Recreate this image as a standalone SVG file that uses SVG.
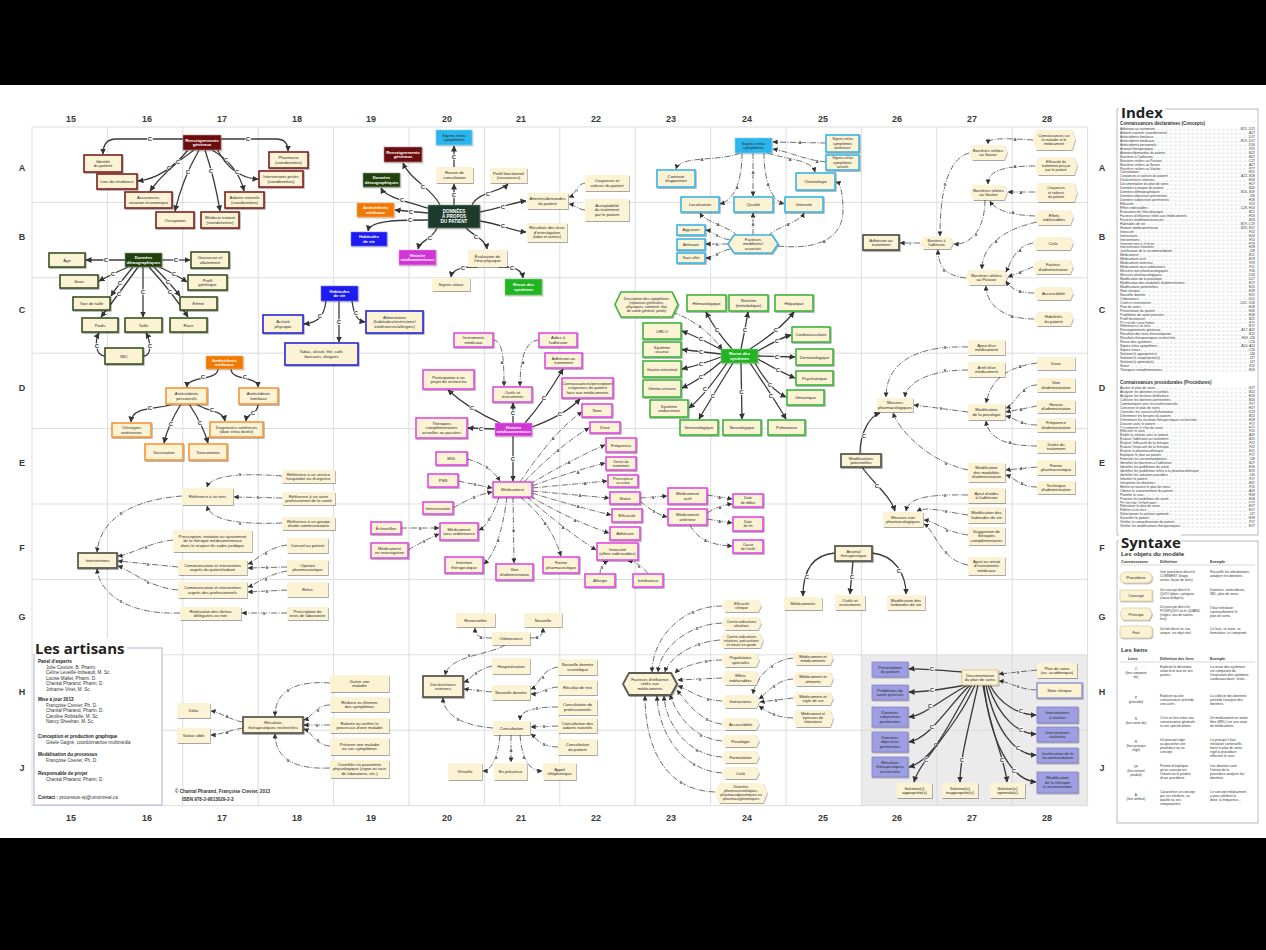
<svg xmlns="http://www.w3.org/2000/svg" width="1266" height="950" viewBox="0 0 1266 950">
<defs>
<filter id="sh" x="-20%" y="-20%" width="150%" height="170%"><feDropShadow dx="0.8" dy="1" stdDeviation="0.7" flood-color="#000" flood-opacity="0.35"/></filter>
<marker id="ar" markerUnits="userSpaceOnUse" markerWidth="6" markerHeight="6" refX="5.5" refY="3" orient="auto"><path d="M0,0 L6,3 L0,6 z" fill="#333"/></marker>
<marker id="ar2" markerUnits="userSpaceOnUse" markerWidth="5" markerHeight="5" refX="4.6" refY="2.5" orient="auto"><path d="M0,0 L5,2.5 L0,5 z" fill="#333"/></marker>
<pattern id="dt1" patternUnits="userSpaceOnUse" x="0" y="126.6" width="1.3" height="3.95"><rect y="2.8" width="0.5" height="0.45" fill="#777"/></pattern>
<pattern id="dt2" patternUnits="userSpaceOnUse" x="0" y="385.6" width="1.3" height="3.95"><rect y="2.8" width="0.5" height="0.45" fill="#777"/></pattern>
</defs>
<style>
.t{font-family:"Liberation Sans",Arial,sans-serif;font-size:4.2px;fill:#2a2a2a;text-anchor:middle}
.sm{font-size:3.7px}
.w{fill:#fff;font-weight:bold}
.b{fill:#fcf2d4;filter:url(#sh)}
.rd{stroke:#7e1f1f;stroke-width:1.6}
.dg{stroke:#38531f;stroke-width:1.6}
.or{stroke:#f4963a;stroke-width:1.6}
.bl{stroke:#2626d8;stroke-width:1.6}
.mg{stroke:#e24ae2;stroke-width:1.6}
.gn{stroke:#3db53d;stroke-width:1.6}
.cy{stroke:#3ab5e4;stroke-width:1.6}
.dk{stroke:#5b5b52;stroke-width:1.8}
.pu{fill:#9e9ee2;stroke:#7f7fc8;stroke-width:0.8}
.hrd{fill:#6c1111;stroke:#b08a8a;stroke-width:0.6}
.hdg{fill:#23420f;stroke:#8a9a80;stroke-width:0.6}
.hor{fill:#f27a05;stroke:#f6b070;stroke-width:0.6}
.hbl{fill:#1b1bf2;stroke:#8080f0;stroke-width:0.6}
.hmg{fill:#d134d6;stroke:#e890e8;stroke-width:0.6}
.hgn{fill:#22b422;stroke:#80d080;stroke-width:0.6}
.hcy{fill:#29b5ec;stroke:#8ad4f0;stroke-width:0.6}
.hct{fill:#1d3a2b;stroke:#8a9a90;stroke-width:0.6}
.grid{fill:none;stroke:#d9d9d9;stroke-width:0.9}
.c{fill:none;stroke:#3a3a3a;stroke-width:1.3;marker-end:url(#ar)}
.a{fill:none;stroke:#4a4a4a;stroke-width:0.8;stroke-dasharray:6 1.5 1 1.5;marker-end:url(#ar2)}
.l{font-family:"Liberation Sans",Arial,sans-serif;font-size:6px;font-weight:bold;fill:#3a3a3a;text-anchor:middle;dominant-baseline:central;paint-order:stroke;stroke:#fff;stroke-width:1.6px}
.s{font-size:4.2px;stroke-width:1.2px}
.hd{font-family:"Liberation Sans",Arial,sans-serif;font-size:9px;font-weight:bold;fill:#3a3a3a;text-anchor:middle}
.ti{font-family:"Open Sans","Liberation Sans",Arial,sans-serif;font-weight:bold;fill:#222}
.ar{font-family:"Liberation Sans",Arial,sans-serif;font-size:4.6px;fill:#333}
.ab{font-weight:bold;fill:#222}
.ix{font-family:"Liberation Sans",Arial,sans-serif;font-size:3.4px;fill:#333;paint-order:stroke;stroke:#fff;stroke-width:1.3px}
.sy{font-family:"Liberation Sans",Arial,sans-serif;font-size:3.4px;fill:#333}
</style>
<rect x="0" y="0" width="1266" height="950" fill="#000"/>
<rect x="0" y="85" width="1266" height="753" fill="#fff"/>

<g id="grid">
<rect x="861.4" y="654.8" width="226.2" height="150.8" fill="#ebebeb"/>
<path class="grid" d="M32 127V805.6M107.4 127V805.6M182.8 127V805.6M258.2 127V805.6M333.6 127V805.6M409 127V805.6M484.4 127V805.6M559.8 127V805.6M635.2 127V805.6M710.6 127V805.6M786 127V805.6M861.4 127V805.6M936.8 127V805.6M1012.2 127V805.6M1087.6 127V805.6M32 127H1087.6M32 202.4H1087.6M32 277.8H1087.6M32 353.2H1087.6M32 428.6H1087.6M32 504H1087.6M32 579.4H1087.6M32 654.8H1087.6M32 730.2H1087.6M32 805.6H1087.6"/>
<g class="hd">
<text x="71" y="122">15</text><text x="147" y="122">16</text><text x="222" y="122">17</text><text x="297" y="122">18</text><text x="371" y="122">19</text><text x="447" y="122">20</text><text x="521" y="122">21</text><text x="596" y="122">22</text><text x="671" y="122">23</text><text x="747" y="122">24</text><text x="823" y="122">25</text><text x="897" y="122">26</text><text x="972" y="122">27</text><text x="1047" y="122">28</text>
<text x="71" y="821">15</text><text x="147" y="821">16</text><text x="222" y="821">17</text><text x="297" y="821">18</text><text x="371" y="821">19</text><text x="447" y="821">20</text><text x="521" y="821">21</text><text x="596" y="821">22</text><text x="671" y="821">23</text><text x="747" y="821">24</text><text x="823" y="821">25</text><text x="897" y="821">26</text><text x="972" y="821">27</text><text x="1047" y="821">28</text>
<text x="22" y="171">A</text><text x="22" y="240">B</text><text x="22" y="313">C</text><text x="22" y="391">D</text><text x="22" y="466">E</text><text x="22" y="551">F</text><text x="22" y="620">G</text><text x="22" y="695">H</text><text x="22" y="771">J</text>
<text x="1102" y="171">A</text><text x="1102" y="240">B</text><text x="1102" y="313">C</text><text x="1102" y="391">D</text><text x="1102" y="466">E</text><text x="1102" y="551">F</text><text x="1102" y="620">G</text><text x="1102" y="695">H</text><text x="1102" y="771">J</text>
</g>
</g>

<g id="connectors">
<!-- Renseignements généraux -->
<path class="c" d="M221 139 L276 139 Q288 139 288 151"/><text class="l" x="248" y="139">C</text>
<path class="c" d="M183 139 L116 139 Q103 139 103 154"/><text class="l" x="150" y="139">C</text>
<path class="c" d="M188 150 Q165 178 138 181"/><text class="l" x="169" y="168">C</text>
<path class="c" d="M194 150 Q165 170 150 191"/><text class="l" x="178" y="162">C</text>
<path class="c" d="M199 150 Q182 180 175 211"/><text class="l" x="188" y="172">C</text>
<path class="c" d="M205 150 Q215 180 220 211"/><text class="l" x="211" y="171">C</text>
<path class="c" d="M212 150 Q238 165 244 191"/><text class="l" x="226" y="160">C</text>
<path class="c" d="M217 149 Q232 178 258 179"/><text class="l" x="237" y="172">C</text>
<!-- Données démographiques -->
<path class="c" d="M125 260 L86 260"/><text class="l" x="106" y="260">C</text>
<path class="c" d="M162 260 L190 260"/><text class="l" x="176" y="260">C</text>
<path class="c" d="M128 267 Q112 274 99 281"/><text class="l" x="113" y="274">C</text>
<path class="c" d="M159 267 Q175 274 187 282"/><text class="l" x="174" y="274">C</text>
<path class="c" d="M133 267 Q118 285 111 296"/><text class="l" x="120" y="283">C</text>
<path class="c" d="M154 267 Q170 283 180 296"/><text class="l" x="168" y="282">C</text>
<path class="c" d="M138 267 Q118 295 101 317"/><text class="l" x="119" y="294">C</text>
<path class="c" d="M143 267 L143 317"/><text class="l" x="143" y="292">C</text>
<path class="c" d="M149 267 Q172 292 188 317"/><text class="l" x="170" y="292">C</text>
<path class="c" d="M105 356 C 95 356 95 340 99 333"/><text class="l" x="97" y="346">C</text>
<path class="c" d="M143 356 C 153 356 150 340 146 333"/><text class="l" x="150" y="346">C</text>
<!-- Antécédents médicaux -->
<path class="c" d="M218 369 C 218 381 187 376 187 387"/><text class="l" x="203" y="377">C</text>
<path class="c" d="M231 369 C 231 381 258 376 258 387"/><text class="l" x="245" y="377">C</text>
<path class="c" d="M172 404 C 160 410 132 405 131 422"/><text class="l" x="150" y="408">C</text>
<path class="c" d="M181 404 Q168 425 164 443"/><text class="l" x="171" y="424">C</text>
<path class="c" d="M189 404 Q203 425 208 443"/><text class="l" x="200" y="423">C</text>
<path class="c" d="M196 404 C 210 413 223 410 225 421"/><text class="l" x="212" y="410">C</text>
<path class="c" d="M258 404 C 258 415 247 412 246 421"/><text class="l" x="253" y="413">C</text>
<!-- Habitudes de vie -->
<path class="c" d="M326 301 C 324 318 316 323 304 324"/><text class="l" x="320" y="316">C</text>
<path class="c" d="M352 301 C 354 316 358 321 365 322"/><text class="l" x="356" y="313">C</text>
<path class="c" d="M339 301 L339 342"/><text class="l" x="339" y="322">C</text>
<!-- Données à propos du patient -->
<path class="c" d="M454 205 L454 184"/><text class="l" x="454" y="195">C</text>
<path class="c" d="M454 167 L454 146"/><text class="l" x="454" y="157">C</text>
<path class="c" d="M440 205 C 432 188 410 180 403 163"/><text class="l" x="423" y="187">C</text>
<path class="c" d="M430 209 C 410 202 386 198 381 188"/><text class="l" x="402" y="200">C</text>
<path class="c" d="M428 213 L395 210"/><text class="l" x="411" y="211.5">C</text>
<path class="c" d="M428 220 C 400 220 370 220 368 231"/><text class="l" x="410" y="220">C</text>
<path class="c" d="M437 228 C 432 240 420 240 418 249"/><text class="l" x="430" y="238">C</text>
<path class="c" d="M466 228 C 474 236 486 240 487 249"/><text class="l" x="476" y="237">C</text>
<path class="c" d="M477 267 C 462 266 452 270 451 277"/><text class="l" x="463" y="268">C</text>
<path class="c" d="M499 267 C 514 266 522 270 523 278"/><text class="l" x="512" y="268">C</text>
<path class="c" d="M472 205 C 478 192 500 192 508 184"/><text class="l" x="488" y="194">C</text>
<path class="c" d="M480 212 C 500 208 515 202 526 201"/><text class="l" x="503" y="207">C</text>
<path class="c" d="M480 221 C 500 224 512 231 526 232"/><text class="l" x="503" y="226">C</text>
<path class="a" d="M585 183 C 577 184 575 195 569 197"/><text class="l s" x="577" y="190">I</text>
<path class="a" d="M585 210 C 577 209 575 205 569 204"/>
<!-- Signes et symptômes -->
<path class="a" d="M826 143 L773 142"/><text class="l s" x="800" y="142.5">A</text>
<path class="a" d="M826 162 C 805 160 790 152 773 149"/><text class="l s" x="817" y="161">A</text>
<path class="a" d="M740 153 C 720 162 680 155 676 169"/><text class="l s" x="702" y="159">A</text>
<path class="a" d="M767 153 C 790 160 812 160 815 172"/><text class="l s" x="790" y="159">A</text>
<path class="a" d="M742 153 C 742 180 735 200 720 204"/><text class="l s" x="737" y="187">A</text>
<path class="a" d="M753 153 L753 196"/><text class="l s" x="753" y="172">A</text>
<path class="a" d="M764 153 C 764 180 771 200 784 204"/><text class="l s" x="768" y="184">A</text>
<path class="a" d="M738 236 C 728 226 705 222 700 213"/><text class="l s" x="718" y="224">A</text>
<path class="a" d="M753 235 L753 213"/><text class="l s" x="753" y="224">A</text>
<path class="a" d="M768 236 C 778 226 800 222 804 213"/><text class="l s" x="788" y="224">A</text>
<path class="a" d="M778 246 C 815 250 843 240 843 210 C 843 192 840 183 836 182"/><text class="l s" x="824" y="241">A</text>
<path class="a" d="M730 240 C 718 238 712 231 706 230"/><text class="l s" x="717" y="235">S</text>
<path class="a" d="M728 244 L706 244"/><text class="l s" x="717" y="244">S</text>
<path class="a" d="M730 249 C 718 252 712 258 706 258"/><text class="l s" x="717" y="254">S</text>
<!-- Revue des systèmes -->
<path class="c" d="M732 349 Q715 330 706 312"/><text class="l" x="717" y="330">C</text>
<path class="c" d="M741 349 Q745 330 748 312"/><text class="l" x="745" y="330">C</text>
<path class="c" d="M750 349 Q780 330 794 312"/><text class="l" x="776" y="330">C</text>
<path class="c" d="M758 351 Q780 338 791 335"/><text class="l" x="777" y="341">C</text>
<path class="c" d="M758 356 L795 357"/><text class="l" x="777" y="356.5">C</text>
<path class="c" d="M758 359 Q780 372 795 378"/><text class="l" x="778" y="370">C</text>
<path class="c" d="M755 363 Q770 390 786 397"/><text class="l" x="770" y="385">C</text>
<path class="c" d="M750 363 Q775 400 786 419"/><text class="l" x="771" y="396">C</text>
<path class="c" d="M741 363 L742 419"/><text class="l" x="741.5" y="392">C</text>
<path class="c" d="M733 363 Q710 400 699 419"/><text class="l" x="713" y="396">C</text>
<path class="c" d="M727 363 Q705 395 689 408"/><text class="l" x="705" y="389">C</text>
<path class="c" d="M722 361 Q700 380 682 388"/><text class="l" x="701" y="377">C</text>
<path class="c" d="M721 357 Q700 365 682 369"/><text class="l" x="701" y="364">C</text>
<path class="c" d="M721 354 L682 349.5"/><text class="l" x="701" y="351.5">C</text>
<path class="c" d="M722 350 Q700 338 682 331"/><text class="l" x="701" y="339">C</text>
<path class="a" d="M672 312 C 695 320 712 335 722 349"/><text class="l s" x="700" y="326">A</text>
<!-- Histoire médicamenteuse -->
<path class="c" d="M513 423 L513 403"/><text class="l" x="513" y="413">C</text>
<path class="c" d="M525 423 Q545 400 563 369"/><text class="l" x="544" y="398">C</text>
<path class="c" d="M500 423 Q470 410 448 390"/><text class="l" x="472" y="408">C</text>
<path class="c" d="M532 427 Q565 415 580 399"/><text class="l" x="560" y="414">C</text>
<path class="c" d="M495 429 L468 428"/><text class="l" x="481" y="428.5">C</text>
<path class="c" d="M513 436 L513 481"/><text class="l" x="513" y="459">C</text>
<path class="a" d="M493 340 C 503 340 504 360 504 386"/><text class="l s" x="502" y="362">A</text>
<path class="a" d="M539 340 C 525 340 520 360 520 386"/><text class="l s" x="523" y="362">A</text>
<path class="a" d="M520 482 Q555 430 582 412"/><text class="l s" x="553" y="438">A</text>
<path class="a" d="M524 482 Q560 445 589 428"/><text class="l s" x="558" y="450">A</text>
<path class="a" d="M530 484 Q570 460 605 445"/><text class="l s" x="569" y="462">A</text>
<path class="a" d="M532 486 Q570 472 605 463"/><text class="l s" x="578" y="472">A</text>
<path class="a" d="M532 488 L607 481"/><text class="l s" x="585" y="483">A</text>
<path class="a" d="M532 491 L609 498"/><text class="l s" x="580" y="495.5">A</text>
<path class="a" d="M532 493 Q570 505 611 515"/><text class="l s" x="578" y="506">A</text>
<path class="a" d="M530 496 Q570 520 609 533"/><text class="l s" x="575" y="520">A</text>
<path class="a" d="M527 497 Q565 530 596 550"/><text class="l s" x="563" y="527">A</text>
<path class="a" d="M520 497 Q550 520 561 556"/><text class="l s" x="545" y="523">A</text>
<path class="a" d="M513 497 L514 563"/><text class="l s" x="513.5" y="530">A</text>
<path class="a" d="M507 497 Q500 550 484 564"/><text class="l s" x="498" y="540">A</text>
<path class="a" d="M499 497 Q490 525 479 530"/><text class="l s" x="489" y="519">S</text>
<path class="a" d="M467 459 Q490 465 500 481"/><text class="l s" x="487" y="467">S</text>
<path class="a" d="M458 481 L492 488"/><text class="l s" x="475" y="484.5">S</text>
<path class="a" d="M453 508 Q475 495 492 492"/><text class="l s" x="474" y="497.5">S</text>
<path class="a" d="M401 528 L439 528"/><text class="l s" x="420" y="528">S</text>
<path class="a" d="M408 550 Q425 540 439 534"/><text class="l s" x="424" y="541">S</text>
<path class="a" d="M600 574 Q600 565 608 561"/><text class="l s" x="602" y="567">S</text>
<path class="a" d="M648 574 Q640 562 628 561"/><text class="l s" x="639" y="566">S</text>
<path class="a" d="M640 498 L667 496"/><text class="l s" x="653" y="497">S</text>
<path class="a" d="M640 501 Q655 514 667 517"/><text class="l s" x="654" y="511.5">S</text>
<path class="a" d="M707 495 L732 499"/><text class="l s" x="719.5" y="497">A</text>
<path class="a" d="M707 513 Q720 505 732 504"/><text class="l s" x="720" y="507">A</text>
<path class="a" d="M707 519 L732 523"/><text class="l s" x="719.5" y="521">A</text>
<path class="a" d="M690 525 Q700 545 732 546"/><text class="l s" x="705.5" y="540">A</text>
<!-- Barrières -->
<path class="a" d="M920 243 L900 243"/><text class="l s" x="910" y="243">I</text>
<path class="a" d="M969 153 C 945 160 940 200 940 236"/><text class="l s" x="945" y="184">S</text>
<path class="a" d="M985 200 C 985 230 970 245 954 244"/><text class="l s" x="976" y="234">S</text>
<path class="a" d="M966 278 C 945 276 938 265 938 250"/><text class="l s" x="944" y="270">S</text>
<path class="a" d="M1033 140 C 1000 138 988 138 988 144"/><text class="l s" x="1015" y="139">A</text>
<path class="a" d="M1035 166 C 1000 166 988 172 988 184"/><text class="l s" x="1015" y="166">A</text>
<path class="a" d="M1035 192 L1008 192"/><text class="l s" x="1021" y="192">A</text>
<path class="a" d="M1035 216 C 1010 215 995 210 990 201"/><text class="l s" x="1013" y="212">A</text>
<path class="a" d="M1037 222 C 1000 230 982 248 982 269"/><text class="l s" x="996" y="241">A</text>
<path class="a" d="M1033 243 C 1015 246 1010 264 1006 272"/><text class="l s" x="1020" y="250">A</text>
<path class="a" d="M1033 267 L1008 277"/><text class="l s" x="1020" y="272">A</text>
<path class="a" d="M1034 293 C 1016 293 1010 287 1006 281"/><text class="l s" x="1020" y="291">A</text>
<path class="a" d="M1034 319 C 1000 319 986 302 986 286"/><text class="l s" x="1012" y="316">A</text>
<!-- Modifications potentielles -->
<path class="c" d="M860 454 C 860 432 870 416 880 413"/><text class="l" x="864" y="436">C</text>
<path class="c" d="M862 467 C 872 482 890 495 895 511"/><text class="l" x="877" y="486">C</text>
<path class="a" d="M968 347 C 905 345 886 370 886 397"/><text class="l s" x="945" y="347">S</text>
<path class="a" d="M968 370 C 925 370 906 385 905 397"/><text class="l s" x="945" y="370">S</text>
<path class="a" d="M968 412 L914 405"/><text class="l s" x="941" y="408.5">S</text>
<path class="a" d="M968 470 C 930 462 900 432 893 413"/><text class="l s" x="946" y="463">S</text>
<path class="a" d="M1037 363 C 1000 368 990 385 986 403"/><text class="l s" x="1020" y="366">A</text>
<path class="a" d="M1037 385 C 1020 385 1015 405 1006 408"/><text class="l s" x="1024" y="390">A</text>
<path class="a" d="M1037 406 L1006 412"/><text class="l s" x="1021" y="409">A</text>
<path class="a" d="M1037 425 C 1020 425 1015 418 1006 416"/><text class="l s" x="1022" y="422">A</text>
<path class="a" d="M1037 446 C 1000 446 988 435 986 421"/><text class="l s" x="1010" y="442">A</text>
<path class="a" d="M1037 467 L1006 470"/><text class="l s" x="1021" y="468.5">A</text>
<path class="a" d="M1037 487 C 1020 487 1015 478 1006 475"/><text class="l s" x="1022" y="483">A</text>
<path class="a" d="M968 495 C 920 494 908 500 906 511"/><text class="l s" x="945" y="495">S</text>
<path class="a" d="M968 515 C 945 512 928 506 917 511"/><text class="l s" x="946" y="511">S</text>
<path class="a" d="M968 535 C 945 532 935 521 924 520"/><text class="l s" x="947" y="530">S</text>
<path class="a" d="M968 565 C 940 560 935 530 924 524"/><text class="l s" x="946" y="552">S</text>
<path class="c" d="M835 553 C 810 555 803 575 803 596"/><text class="l" x="807" y="577">C</text>
<path class="c" d="M853 561 L850 594"/><text class="l" x="852" y="577">C</text>
<path class="c" d="M872 553 C 895 555 906 575 906 594"/><text class="l" x="899" y="571">C</text>
<!-- Interventions -->
<path class="a" d="M182 496 C 130 500 100 520 97 552"/><text class="l s" x="121" y="513">S</text>
<path class="a" d="M282 476 C 230 472 210 478 207 487"/><text class="l s" x="240" y="474">S</text>
<path class="a" d="M282 498 L234 497"/><text class="l s" x="258" y="497.5">S</text>
<path class="a" d="M282 523 C 230 525 210 518 207 506"/><text class="l s" x="240" y="523">S</text>
<path class="a" d="M173 540 C 150 542 130 555 118 556"/><text class="l s" x="146" y="547">S</text>
<path class="a" d="M178 567 L118 561"/><text class="l s" x="148" y="564">S</text>
<path class="a" d="M178 590 C 150 588 130 570 118 566"/><text class="l s" x="148" y="582">S</text>
<path class="a" d="M180 613 C 130 615 100 595 97 569"/><text class="l s" x="121" y="601">S</text>
<path class="a" d="M287 545 C 265 548 255 562 248 564"/><text class="l s" x="266" y="553">S</text>
<path class="a" d="M287 567 L248 568"/><text class="l s" x="267" y="567.5">S</text>
<path class="a" d="M287 571 C 265 575 255 585 248 587"/><text class="l s" x="266" y="579">S</text>
<path class="a" d="M287 590 L248 592"/><text class="l s" x="267" y="591">S</text>
<path class="a" d="M287 613 L242 613"/><text class="l s" x="264" y="613">S</text>
<!-- Résultats thérapeutiques -->
<path class="a" d="M330 683 C 290 680 275 695 275 716"/><text class="l s" x="288" y="690">S</text>
<path class="a" d="M330 705 C 315 705 312 718 304 720"/><text class="l s" x="318" y="710">S</text>
<path class="a" d="M330 725 L304 725"/><text class="l s" x="317" y="725">S</text>
<path class="a" d="M330 746 C 315 745 312 732 304 729"/><text class="l s" x="318" y="740">S</text>
<path class="a" d="M330 768 C 290 770 275 755 275 734"/><text class="l s" x="288" y="760">S</text>
<path class="a" d="M243 722 C 230 720 220 712 211 711"/><text class="l s" x="227" y="716">A</text>
<path class="a" d="M243 728 C 230 730 220 735 211 735"/><text class="l s" x="227" y="732">A</text>
<!-- Déclencheurs externes -->
<path class="a" d="M505 645 C 490 655 450 655 445 675"/><text class="l s" x="469" y="655">S</text>
<path class="a" d="M492 638 C 478 638 475 635 475 628"/><text class="l s" x="481" y="637">A</text>
<path class="a" d="M530 638 C 540 638 543 635 543 628"/><text class="l s" x="537" y="637">A</text>
<path class="a" d="M492 666 C 475 670 470 680 464 682"/><text class="l s" x="476" y="673">S</text>
<path class="a" d="M492 692 L464 689"/><text class="l s" x="478" y="690.5">S</text>
<path class="a" d="M558 667 C 540 670 540 685 531 689"/><text class="l s" x="543" y="677">S</text>
<path class="a" d="M558 687 C 545 688 540 694 531 694"/><text class="l s" x="546" y="690">S</text>
<path class="a" d="M493 728 C 455 725 443 710 443 698"/><text class="l s" x="458" y="719">S</text>
<path class="a" d="M558 707 C 530 707 520 712 520 720"/><text class="l s" x="537" y="708">S</text>
<path class="a" d="M558 726 L531 727"/><text class="l s" x="544" y="726.5">S</text>
<path class="a" d="M558 747 C 540 747 535 737 531 734"/><text class="l s" x="544" y="744">S</text>
<path class="a" d="M500 735 C 498 760 490 771 483 771"/><text class="l s" x="496" y="757">A</text>
<path class="a" d="M511 735 L511 762"/><text class="l s" x="511" y="750">A</text>
<path class="a" d="M520 735 C 522 760 530 771 542 771"/><text class="l s" x="524" y="757">A</text>
<!-- Facteurs d'influence -->
<path class="a" d="M722 606 C 680 606 652 640 652 672"/><text class="l s" x="693" y="612">S</text>
<path class="a" d="M722 623 C 685 625 660 650 658 672"/><text class="l s" x="697" y="628">S</text>
<path class="a" d="M720 640 C 690 642 668 660 665 672"/><text class="l s" x="699" y="644">S</text>
<path class="a" d="M722 660 C 700 660 680 668 675 673"/><text class="l s" x="706" y="661">S</text>
<path class="a" d="M722 678 L678 680"/><text class="l s" x="700" y="679">S</text>
<path class="a" d="M722 701 C 700 700 690 690 678 686"/><text class="l s" x="708" y="699">S</text>
<path class="a" d="M722 724 C 700 722 685 700 677 690"/><text class="l s" x="707" y="719">S</text>
<path class="a" d="M722 741 C 690 738 675 710 670 695"/><text class="l s" x="701" y="735">S</text>
<path class="a" d="M722 757 C 685 755 665 720 664 696"/><text class="l s" x="697" y="750">S</text>
<path class="a" d="M722 773 C 680 770 658 730 657 696"/><text class="l s" x="694" y="764">S</text>
<path class="a" d="M715 792 C 660 790 645 740 645 696"/><text class="l s" x="681" y="782">S</text>
<path class="a" d="M793 658 C 770 660 755 680 753 694"/><text class="l s" x="772" y="666">S</text>
<path class="a" d="M793 679 C 775 680 765 695 759 699"/><text class="l s" x="774" y="686">S</text>
<path class="a" d="M793 698 L760 702"/><text class="l s" x="776" y="700">S</text>
<path class="a" d="M793 718 C 775 718 765 710 759 706"/><text class="l s" x="774" y="714">S</text>
<!-- Documentation du plan de soins -->
<path class="c" d="M962 672 C 935 670 920 668 909 669"/><text class="l" x="932" y="669">C</text>
<path class="c" d="M965 685 C 940 690 925 692 909 692"/><text class="l" x="932" y="690">C</text>
<path class="c" d="M968 685 C 940 700 925 715 909 717"/><text class="l" x="930" y="706">C</text>
<path class="c" d="M970 685 C 945 710 930 738 909 742"/><text class="l" x="932" y="727">C</text>
<path class="c" d="M972 685 C 950 720 935 760 909 767"/><text class="l" x="936" y="745">C</text>
<path class="c" d="M975 685 C 955 730 920 760 914 782"/><text class="l" x="926" y="760">C</text>
<path class="c" d="M978 685 C 968 730 960 760 960 782"/><text class="l" x="962" y="760">C</text>
<path class="c" d="M983 685 C 990 730 1005 760 1007 782"/><text class="l" x="1002" y="760">C</text>
<path class="c" d="M990 685 C 1000 705 1020 715 1036 715"/><text class="l" x="1021" y="711">C</text>
<path class="c" d="M988 685 C 1000 720 1020 734 1036 734"/><text class="l" x="1021" y="730">C</text>
<path class="c" d="M986 685 C 995 730 1015 755 1036 755"/><text class="l" x="1018" y="748">C</text>
<path class="c" d="M984 685 C 990 740 1010 780 1036 782"/><text class="l" x="1014" y="771">C</text>
<path class="a" d="M1037 670 L999 674"/><text class="l s" x="1018" y="672">S</text>
<path class="a" d="M1037 690 C 1020 690 1010 682 999 681"/><text class="l s" x="1018" y="686">S</text>
</g>

<!-- ===== Renseignements généraux ===== -->
<g id="rg-hub"><rect class="b hrd" x="183" y="135" width="38" height="15"/><text class="t w" x="202" y="141.6">Renseignements<tspan x="202" dy="4.8">généraux</tspan></text></g>
<g id="rg-identite"><rect class="b rd" x="84" y="155" width="38" height="17"/><text class="t" x="103" y="162.6">Identité<tspan x="103" dy="4.8">du patient</tspan></text></g>
<g id="rg-lieu"><rect class="b rd" x="97" y="174" width="40" height="15"/><text class="t" x="117" y="183">Lieu de résidence</text></g>
<g id="rg-assur"><rect class="b rd" x="125" y="192" width="47" height="16"/><text class="t" x="148.5" y="199.1">Assurances,<tspan x="148.5" dy="4.8">situation économique</tspan></text></g>
<g id="rg-occup"><rect class="b rd" x="156" y="212" width="38" height="16"/><text class="t" x="175" y="221.5">Occupation</text></g>
<g id="rg-medecin"><rect class="b rd" x="201" y="212" width="38" height="16"/><text class="t" x="220" y="219.1">Médecin traitant<tspan x="220" dy="4.8">(coordonnées)</tspan></text></g>
<g id="rg-aidants"><rect class="b rd" x="225" y="192" width="39" height="16"/><text class="t" x="244.5" y="199.1">Aidants naturels<tspan x="244.5" dy="4.8">(coordonnées)</tspan></text></g>
<g id="rg-interv"><rect class="b rd" x="259" y="171" width="44" height="16"/><text class="t" x="281" y="178.1">Intervenants privés<tspan x="281" dy="4.8">(coordonnées)</tspan></text></g>
<g id="rg-pharma"><rect class="b rd" x="269" y="152" width="39" height="16"/><text class="t" x="288.5" y="159.1">Pharmacie<tspan x="288.5" dy="4.8">(coordonnées)</tspan></text></g>

<!-- ===== Données démographiques ===== -->
<g id="dd-hub"><rect class="b hdg" x="125" y="253" width="37" height="14"/><text class="t w" x="143.5" y="259.1">Données<tspan x="143.5" dy="4.8">démographiques</tspan></text></g>
<g id="dd-age"><rect class="b dg" x="49" y="253" width="36" height="14"/><text class="t" x="67" y="261.5">Âge</text></g>
<g id="dd-gross"><rect class="b dg" x="191" y="252" width="38" height="16"/><text class="t" x="210" y="259.1">Grossesse et<tspan x="210" dy="4.8">allaitement</tspan></text></g>
<g id="dd-sexe"><rect class="b dg" x="60" y="275" width="38" height="13"/><text class="t" x="79" y="283">Sexe</text></g>
<g id="dd-profil"><rect class="b dg" x="188" y="275" width="39" height="15"/><text class="t" x="207.5" y="281.6">Profil<tspan x="207.5" dy="4.8">génétique</tspan></text></g>
<g id="dd-tour"><rect class="b dg" x="73" y="297" width="37" height="13"/><text class="t" x="91.5" y="305">Tour de taille</text></g>
<g id="dd-ethnie"><rect class="b dg" x="180" y="297" width="37" height="13"/><text class="t" x="198.5" y="305">Ethnie</text></g>
<g id="dd-poids"><rect class="b dg" x="82" y="318" width="36" height="14"/><text class="t" x="100" y="326.5">Poids</text></g>
<g id="dd-taille"><rect class="b dg" x="125" y="318" width="37" height="14"/><text class="t" x="143.5" y="326.5">Taille</text></g>
<g id="dd-race"><rect class="b dg" x="170" y="318" width="37" height="14"/><text class="t" x="188.5" y="326.5">Race</text></g>
<g id="dd-imc"><rect class="b dg" x="105" y="348" width="38" height="16"/><text class="t" x="124" y="357.5">IMC</text></g>

<!-- ===== Antécédents médicaux ===== -->
<g id="am-hub"><rect class="b hor" x="206" y="356" width="37" height="13"/><text class="t w" x="224.5" y="361.6">Antécédents<tspan x="224.5" dy="4.8">médicaux</tspan></text></g>
<g id="am-pers"><rect class="b or" x="166" y="388" width="41" height="16"/><text class="t" x="186.5" y="395.1">Antécédents<tspan x="186.5" dy="4.8">personnels</tspan></text></g>
<g id="am-fam"><rect class="b or" x="239" y="388" width="39" height="16"/><text class="t" x="258.5" y="395.1">Antécédents<tspan x="258.5" dy="4.8">familiaux</tspan></text></g>
<g id="am-chir"><rect class="b or" x="112" y="423" width="39" height="14"/><text class="t" x="131.5" y="429.1">Chirurgies<tspan x="131.5" dy="4.8">antérieures</tspan></text></g>
<g id="am-diag"><rect class="b or" x="210" y="422" width="53" height="15"/><text class="t" x="236.5" y="428.6">Diagnostics antérieurs<tspan x="236.5" dy="4.8">(date et/ou durée)</tspan></text></g>
<g id="am-vacc"><rect class="b or" x="145" y="444" width="38" height="16"/><text class="t" x="164" y="453.5">Vaccination</text></g>
<g id="am-toxi"><rect class="b or" x="189" y="444" width="38" height="16"/><text class="t" x="208" y="453.5">Toxicomanie</text></g>

<!-- ===== Habitudes de vie ===== -->
<g id="hv-hub"><rect class="b hbl" x="321" y="286" width="37" height="15"/><text class="t w" x="339.5" y="292.6">Habitudes<tspan x="339.5" dy="4.8">de vie</tspan></text></g>
<g id="hv-act"><rect class="b bl" x="263" y="315" width="40" height="18"/><text class="t" x="283" y="323.1">Activité<tspan x="283" dy="4.8">physique</tspan></text></g>
<g id="hv-alim"><rect class="b bl" x="366" y="311" width="57" height="22"/><text class="t" x="394.5" y="318.9">Alimentation<tspan x="394.5" dy="4.5">(habitudes/restrictions/</tspan><tspan x="394.5" dy="4.5">intolérances/allergies)</tspan></text></g>
<g id="hv-tabac"><rect class="b bl" x="285" y="343" width="73" height="22"/><text class="t" x="321.5" y="353.1">Tabac, alcool, thé, café,<tspan x="321.5" dy="4.8">boissons, drogues</tspan></text></g>

<!-- ===== Données à propos du patient ===== -->
<g id="dp-hub"><rect class="b hct" x="428" y="205" width="52" height="23"/><text class="t w" x="454" y="213" style="font-size:4.6px">DONNÉES<tspan x="454" dy="5">À PROPOS</tspan><tspan x="454" dy="5">DU PATIENT</tspan></text></g>
<g id="dp-signes"><rect class="b hcy" x="436" y="130" width="36" height="15"/><text class="t" x="454" y="136.6">Signes et/ou<tspan x="454" dy="4.8">symptômes</tspan></text></g>
<g id="dp-raison"><rect class="b" x="436" y="167" width="37" height="16"/><text class="t" x="454.5" y="174.1">Raison de<tspan x="454.5" dy="4.8">consultation</tspan></text></g>
<g id="dp-rg"><rect class="b hrd" x="384" y="147" width="38" height="15"/><text class="t w" x="403" y="153.6">Renseignements<tspan x="403" dy="4.8">généraux</tspan></text></g>
<g id="dp-dd"><rect class="b hdg" x="363" y="173" width="37" height="14"/><text class="t w" x="381.5" y="179.1">Données<tspan x="381.5" dy="4.8">démographiques</tspan></text></g>
<g id="dp-am"><rect class="b hor" x="357" y="203" width="37" height="14"/><text class="t w" x="375.5" y="209.1">Antécédents<tspan x="375.5" dy="4.8">médicaux</tspan></text></g>
<g id="dp-hv"><rect class="b hbl" x="351" y="232" width="36" height="14"/><text class="t w" x="369" y="238.1">Habitudes<tspan x="369" dy="4.8">de vie</tspan></text></g>
<g id="dp-hm"><rect class="b hmg" x="399" y="250" width="37" height="15"/><text class="t w" x="417.5" y="256.6">Histoire<tspan x="417.5" dy="4.8">médicamenteuse</tspan></text></g>
<g id="dp-eval"><rect class="b" x="468" y="250" width="39" height="17"/><text class="t" x="487.5" y="257.6">Évaluation de<tspan x="487.5" dy="4.8">l'état physique</tspan></text></g>
<g id="dp-sv"><rect class="b" x="432" y="278" width="38" height="13"/><text class="t" x="451" y="286">Signes vitaux</text></g>
<g id="dp-rs"><rect class="b hgn" x="505" y="279" width="37" height="16"/><text class="t w" x="523.5" y="286.1">Revue des<tspan x="523.5" dy="4.8">systèmes</tspan></text></g>
<g id="dp-profil"><rect class="b" x="490" y="168" width="37" height="15"/><text class="t" x="508.5" y="174.6">Profil fonctionnel<tspan x="508.5" dy="4.8">(ressources)</tspan></text></g>
<g id="dp-attentes"><rect class="b" x="527" y="193" width="41" height="16"/><text class="t" x="547.5" y="200.1">Attentes/demandes<tspan x="547.5" dy="4.8">du patient</tspan></text></g>
<g id="dp-result"><rect class="b" x="527" y="223" width="40" height="19"/><text class="t" x="547" y="229.4">Résultats des tests<tspan x="547" dy="4.5">d'investigation</tspan><tspan x="547" dy="4.5">(labo et autres)</tspan></text></g>
<g id="dp-croy"><rect class="b" x="585" y="175" width="44" height="16"/><text class="t" x="607" y="182.1">Croyances et<tspan x="607" dy="4.8">valeurs du patient</tspan></text></g>
<g id="dp-accept"><rect class="b" x="585" y="199" width="44" height="22"/><text class="t" x="607" y="206.9">Acceptabilité<tspan x="607" dy="4.5">du traitement</tspan><tspan x="607" dy="4.5">par le patient</tspan></text></g>

<!-- ===== Signes et symptômes ===== -->
<g id="ss-hub"><rect class="b hcy" x="735" y="138" width="37" height="15"/><text class="t" x="753.5" y="144.6">Signes et/ou<tspan x="753.5" dy="4.8">symptômes</tspan></text></g>
<g id="ss-ant"><rect class="b cy" x="826" y="135" width="33" height="17"/><text class="t sm" x="842.5" y="140.4">Signes et/ou<tspan x="842.5" dy="4.2">symptômes</tspan><tspan x="842.5" dy="4.2">antérieurs</tspan></text></g>
<g id="ss-act"><rect class="b cy" x="826" y="155" width="33" height="15"/><text class="t sm" x="842.5" y="159.4">Signes et/ou<tspan x="842.5" dy="4.2">symptômes</tspan><tspan x="842.5" dy="4.2">actuels</tspan></text></g>
<g id="ss-ctx"><rect class="b cy" x="657" y="170" width="38" height="17"/><text class="t" x="676" y="177.6">Contexte<tspan x="676" dy="4.8">d'apparition</tspan></text></g>
<g id="ss-chrono"><rect class="b cy" x="796" y="173" width="39" height="17"/><text class="t" x="815.5" y="183">Chronologie</text></g>
<g id="ss-loc"><rect class="b cy" x="681" y="197" width="38" height="15"/><text class="t" x="700" y="206">Localisation</text></g>
<g id="ss-qual"><rect class="b cy" x="734" y="197" width="39" height="15"/><text class="t" x="753.5" y="206">Qualité</text></g>
<g id="ss-int"><rect class="b cy" x="785" y="197" width="38" height="15"/><text class="t" x="804" y="206">Intensité</text></g>
<g id="ss-fact"><polygon class="b cy" points="734,235 772,235 778,244 772,253 734,253 728,244"/><text class="t" x="753" y="240.9">Facteurs<tspan x="753" dy="4.5">modifiants/</tspan><tspan x="753" dy="4.5">associés</tspan></text></g>
<g id="ss-aggr"><rect class="b cy" x="677" y="225" width="28" height="10"/><text class="t sm" x="691" y="231.3">Aggravant</text></g>
<g id="ss-att"><rect class="b cy" x="677" y="239" width="28" height="11"/><text class="t sm" x="691" y="245.8">Atténuant</text></g>
<g id="ss-sans"><rect class="b cy" x="677" y="253" width="28" height="10"/><text class="t sm" x="691" y="259.3">Sans effet</text></g>

<!-- ===== Revue des systèmes ===== -->
<g id="rs-hub"><rect class="b hgn" x="721" y="349" width="37" height="14"/><text class="t w" x="739.5" y="355.1">Revue des<tspan x="739.5" dy="4.8">systèmes</tspan></text></g>
<g id="rs-desc"><polygon class="b gn" points="621,292 672,292 678,304.5 672,317 621,317 615,304.5"/><text class="t sm" x="646.5" y="299.5">Description des symptômes<tspan x="646.5" dy="4.2">(réponses générales,</tspan><tspan x="646.5" dy="4.2">physiques, sommeil, état</tspan><tspan x="646.5" dy="4.2">de santé général, poids)</tspan></text></g>
<g id="rs-hemato"><rect class="b gn" x="687" y="295" width="39" height="16"/><text class="t" x="706.5" y="304.5">Hématologique</text></g>
<g id="rs-nutri"><rect class="b gn" x="729" y="295" width="39" height="16"/><text class="t" x="748.5" y="302.1">Nutrition<tspan x="748.5" dy="4.8">(métabolique)</tspan></text></g>
<g id="rs-hepa"><rect class="b gn" x="775" y="295" width="38" height="16"/><text class="t" x="794" y="304.5">Hépatique</text></g>
<g id="rs-orlo"><rect class="b gn" x="643" y="323" width="38" height="16"/><text class="t" x="662" y="332.5">ORLO</text></g>
<g id="rs-oss"><rect class="b gn" x="643" y="342" width="38" height="15"/><text class="t" x="662" y="348.6">Système<tspan x="662" dy="4.8">osseux</tspan></text></g>
<g id="rs-gastro"><rect class="b gn" x="643" y="361" width="38" height="16"/><text class="t" x="662" y="370.5">Gastro-intestinal</text></g>
<g id="rs-genito"><rect class="b gn" x="643" y="380" width="38" height="17"/><text class="t" x="662" y="390">Génito-urinaire</text></g>
<g id="rs-endo"><rect class="b gn" x="650" y="400" width="38" height="17"/><text class="t" x="669" y="407.6">Système<tspan x="669" dy="4.8">endocrinien</tspan></text></g>
<g id="rs-cardio"><rect class="b gn" x="792" y="327" width="38" height="15"/><text class="t" x="811" y="336">Cardiovasculaire</text></g>
<g id="rs-derm"><rect class="b gn" x="796" y="349" width="37" height="16"/><text class="t" x="814.5" y="358.5">Dermatologique</text></g>
<g id="rs-psy"><rect class="b gn" x="796" y="371" width="37" height="14"/><text class="t" x="814.5" y="379.5">Psychiatrique</text></g>
<g id="rs-geri"><rect class="b gn" x="787" y="390" width="37" height="15"/><text class="t" x="805.5" y="399">Gériatrique</text></g>
<g id="rs-immuno"><rect class="b gn" x="680" y="420" width="38" height="15"/><text class="t" x="699" y="429">Immunologique</text></g>
<g id="rs-neuro"><rect class="b gn" x="723" y="420" width="38" height="15"/><text class="t" x="742" y="429">Neurologique</text></g>
<g id="rs-pulmo"><rect class="b gn" x="768" y="420" width="37" height="15"/><text class="t" x="786.5" y="429">Pulmonaire</text></g>

<!-- ===== Histoire médicamenteuse ===== -->
<g id="hm-hub"><rect class="b hmg" x="495" y="423" width="37" height="13"/><text class="t w" x="513.5" y="428.6">Histoire<tspan x="513.5" dy="4.8">médicamenteuse</tspan></text></g>
<g id="hm-instr"><rect class="b mg" x="454" y="333" width="39" height="14"/><text class="t" x="473.5" y="339.1">Instruments<tspan x="473.5" dy="4.8">médicaux</tspan></text></g>
<g id="hm-aides"><rect class="b mg" x="539" y="333" width="38" height="14"/><text class="t" x="558" y="339.1">Aides à<tspan x="558" dy="4.8">l'adhésion</tspan></text></g>
<g id="hm-adh"><rect class="b mg" x="545" y="353" width="37" height="15"/><text class="t" x="563.5" y="359.6">Adhésion au<tspan x="563.5" dy="4.8">traitement</tspan></text></g>
<g id="hm-outils"><rect class="b mg" x="493" y="387" width="39" height="15"/><text class="t" x="512.5" y="393.6">Outils et<tspan x="512.5" dy="4.8">instruments</tspan></text></g>
<g id="hm-partic"><rect class="b mg" x="423" y="370" width="51" height="19"/><text class="t" x="448.5" y="378.6">Participation à un<tspan x="448.5" dy="4.8">projet de recherche</tspan></text></g>
<g id="hm-conn"><rect class="b mg" x="562" y="378" width="51" height="20"/><text class="t" x="587.5" y="384.9">Connaissances/perception/<tspan x="587.5" dy="4.5">croyances du patient</tspan><tspan x="587.5" dy="4.5">face aux médicaments</tspan></text></g>
<g id="hm-thera"><rect class="b mg" x="416" y="418" width="51" height="20"/><text class="t" x="441.5" y="424.9">Thérapies<tspan x="441.5" dy="4.5">complémentaires</tspan><tspan x="441.5" dy="4.5">actuelles ou passées</tspan></text></g>
<g id="hm-med"><rect class="b mg" x="493" y="482" width="39" height="15"/><text class="t" x="512.5" y="491">Médicament</text></g>
<g id="hm-nom"><rect class="b mg" x="582" y="404" width="30" height="13"/><text class="t" x="597" y="412">Nom</text></g>
<g id="hm-dose"><rect class="b mg" x="590" y="422" width="30" height="11"/><text class="t" x="605" y="429">Dose</text></g>
<g id="hm-freq"><rect class="b mg" x="606" y="438" width="30" height="14"/><text class="t" x="621" y="446.5">Fréquence</text></g>
<g id="hm-duree"><rect class="b mg" x="606" y="457" width="30" height="13"/><text class="t sm" x="621" y="462.5">Durée du<tspan x="621" dy="4.2">traitement</tspan></text></g>
<g id="hm-presc"><rect class="b mg" x="608" y="475" width="30" height="12"/><text class="t sm" x="623" y="480">Prescripteur<tspan x="623" dy="4.2">ou autre</tspan></text></g>
<g id="hm-statut"><rect class="b mg" x="610" y="492" width="30" height="12"/><text class="t" x="625" y="499.5">Statut</text></g>
<g id="hm-effic"><rect class="b mg" x="612" y="509" width="30" height="13"/><text class="t" x="627" y="517">Efficacité</text></g>
<g id="hm-adh2"><rect class="b mg" x="610" y="527" width="30" height="13"/><text class="t" x="625" y="535">Adhésion</text></g>
<g id="hm-innoc"><rect class="b mg" x="597" y="543" width="41" height="17"/><text class="t" x="617.5" y="550.6">Innocuité<tspan x="617.5" dy="4.8">(effets indésirables)</tspan></text></g>
<g id="hm-allerg"><rect class="b mg" x="585" y="574" width="30" height="13"/><text class="t" x="600" y="582">Allergie</text></g>
<g id="hm-intol"><rect class="b mg" x="633" y="574" width="30" height="13"/><text class="t" x="648" y="582">Intolérance</text></g>
<g id="hm-mvl"><rect class="b mg" x="436" y="452" width="31" height="13"/><text class="t" x="451.5" y="460">MVL</text></g>
<g id="hm-psn"><rect class="b mg" x="428" y="474" width="30" height="13"/><text class="t" x="443" y="482">PSN</text></g>
<g id="hm-immun"><rect class="b mg" x="423" y="502" width="30" height="12"/><text class="t" x="438" y="509.5">Immunisation</text></g>
<g id="hm-so"><rect class="b mg" x="440" y="523" width="38" height="17"/><text class="t" x="459" y="530.6">Médicament<tspan x="459" dy="4.8">sous ordonnance</tspan></text></g>
<g id="hm-echant"><rect class="b mg" x="371" y="522" width="30" height="12"/><text class="t" x="386" y="529.5">Échantillon</text></g>
<g id="hm-invest"><rect class="b mg" x="371" y="543" width="37" height="15"/><text class="t" x="389.5" y="549.6">Médicament<tspan x="389.5" dy="4.8">en investigation</tspan></text></g>
<g id="hm-intent"><rect class="b mg" x="445" y="557" width="38" height="16"/><text class="t" x="464" y="564.1">Intention<tspan x="464" dy="4.8">thérapeutique</tspan></text></g>
<g id="hm-voie"><rect class="b mg" x="496" y="564" width="37" height="16"/><text class="t" x="514.5" y="571.1">Voie<tspan x="514.5" dy="4.8">d'administration</tspan></text></g>
<g id="hm-forme"><rect class="b mg" x="543" y="557" width="36" height="16"/><text class="t" x="561" y="564.1">Forme<tspan x="561" dy="4.8">pharmaceutique</tspan></text></g>
<g id="hm-actif"><rect class="b mg" x="668" y="488" width="39" height="16"/><text class="t" x="687.5" y="495.1">Médicament<tspan x="687.5" dy="4.8">actif</tspan></text></g>
<g id="hm-anter"><rect class="b mg" x="668" y="509" width="39" height="16"/><text class="t" x="687.5" y="516.1">Médicament<tspan x="687.5" dy="4.8">antérieur</tspan></text></g>
<g id="hm-debut"><rect class="b mg" x="733" y="494" width="30" height="13"/><text class="t sm" x="748" y="499.4">Date<tspan x="748" dy="4.2">de début</tspan></text></g>
<g id="hm-fin"><rect class="b mg" x="733" y="517" width="30" height="14"/><text class="t sm" x="748" y="523">Date<tspan x="748" dy="4.2">de fin</tspan></text></g>
<g id="hm-cause"><rect class="b mg" x="733" y="540" width="30" height="13"/><text class="t sm" x="748" y="545.5">Cause<tspan x="748" dy="4.2">de l'arrêt</tspan></text></g>

<!-- ===== Barrières à l'adhésion ===== -->
<g id="ba-adh"><rect class="b dk" x="863" y="235" width="36" height="15"/><text class="t" x="881" y="241.6">Adhésion au<tspan x="881" dy="4.8">traitement</tspan></text></g>
<g id="ba-hub"><polygon class="b" points="923,237 950,237 953,243 950,249 923,249 920,243"/><text class="t sm" x="936.5" y="241.8">Barrières à<tspan x="936.5" dy="4">l'adhésion</tspan></text></g>
<g id="ba-savoir"><polygon class="b" points="972,145 1004,145 1007,152.5 1004,160 972,160 969,152.5"/><text class="t" x="988" y="151.6">Barrières reliées<tspan x="988" dy="4.8">au Savoir</tspan></text></g>
<g id="ba-vouloir"><polygon class="b" points="973,185 1004,185 1007,192.5 1004,200 973,200 970,192.5"/><text class="t" x="988.5" y="191.6">Barrières reliées<tspan x="988.5" dy="4.8">au Vouloir</tspan></text></g>
<g id="ba-pouvoir"><polygon class="b" points="969,270 1004,270 1007,277.5 1004,285 969,285 966,277.5"/><text class="t" x="986.5" y="276.6">Barrières reliées<tspan x="986.5" dy="4.8">au Pouvoir</tspan></text></g>
<g id="ba-conn"><polygon class="b" points="1036,130 1072,130 1075,140 1072,150 1036,150 1033,140"/><text class="t sm" x="1054" y="136.8">Connaissances sur<tspan x="1054" dy="4.3">la maladie et le</tspan><tspan x="1054" dy="4.3">médicament</tspan></text></g>
<g id="ba-effic"><polygon class="b" points="1038,157 1074,157 1077,166 1074,175 1038,175 1035,166"/><text class="t sm" x="1056" y="162.8">Efficacité du<tspan x="1056" dy="4.3">traitement perçue</tspan><tspan x="1056" dy="4.3">par le patient</tspan></text></g>
<g id="ba-croy"><polygon class="b" points="1038,183 1074,183 1077,192.5 1074,202 1038,202 1035,192.5"/><text class="t sm" x="1056" y="189.3">Croyances<tspan x="1056" dy="4.3">et valeurs</tspan><tspan x="1056" dy="4.3">du patient</tspan></text></g>
<g id="ba-effets"><polygon class="b" points="1038,210 1070,210 1073,217.5 1070,225 1038,225 1035,217.5"/><text class="t" x="1054" y="216.6">Effets<tspan x="1054" dy="4.8">indésirables</tspan></text></g>
<g id="ba-cout"><polygon class="b" points="1036,237 1070,237 1073,243.5 1070,250 1036,250 1033,243.5"/><text class="t" x="1053" y="245">Coût</text></g>
<g id="ba-fact"><polygon class="b" points="1036,260 1070,260 1073,267 1070,274 1036,274 1033,267"/><text class="t" x="1053" y="266.1">Facteur<tspan x="1053" dy="4.8">d'administration</tspan></text></g>
<g id="ba-access"><polygon class="b" points="1037,287 1070,287 1073,293.5 1070,300 1037,300 1034,293.5"/><text class="t" x="1053.5" y="295">Accessibilité</text></g>
<g id="ba-habil"><polygon class="b" points="1037,312 1070,312 1073,319 1070,326 1037,326 1034,319"/><text class="t" x="1053.5" y="318.1">Habiletés<tspan x="1053.5" dy="4.8">du patient</tspan></text></g>

<!-- ===== Modifications potentielles ===== -->
<g id="mp-hub"><rect class="b dk" x="841" y="454" width="40" height="13"/><text class="t" x="861" y="459.6">Modifications<tspan x="861" dy="4.8">potentielles</tspan></text></g>
<g id="mp-pharm"><rect class="b" x="877" y="398" width="36" height="14"/><text class="t" x="895" y="404.1">Mesures<tspan x="895" dy="4.8">pharmacologiques</tspan></text></g>
<g id="mp-ajout"><rect class="b" x="968" y="340" width="37" height="15"/><text class="t" x="986.5" y="346.6">Ajout d'un<tspan x="986.5" dy="4.8">médicament</tspan></text></g>
<g id="mp-arret"><rect class="b" x="968" y="362" width="37" height="15"/><text class="t" x="986.5" y="368.6">Arrêt d'un<tspan x="986.5" dy="4.8">médicament</tspan></text></g>
<g id="mp-poso"><rect class="b" x="968" y="404" width="37" height="16"/><text class="t" x="986.5" y="411.1">Modification<tspan x="986.5" dy="4.8">de la posologie</tspan></text></g>
<g id="mp-dose"><rect class="b" x="1037" y="357" width="38" height="13"/><text class="t" x="1056" y="365">Dose</text></g>
<g id="mp-voie"><rect class="b" x="1037" y="378" width="38" height="14"/><text class="t" x="1056" y="384.1">Voie<tspan x="1056" dy="4.8">d'administration</tspan></text></g>
<g id="mp-horaire"><rect class="b" x="1037" y="400" width="38" height="13"/><text class="t" x="1056" y="405.6">Horaire<tspan x="1056" dy="4.8">d'administration</tspan></text></g>
<g id="mp-freq"><rect class="b" x="1037" y="418" width="38" height="14"/><text class="t" x="1056" y="424.1">Fréquence<tspan x="1056" dy="4.8">d'administration</tspan></text></g>
<g id="mp-duree"><rect class="b" x="1037" y="440" width="38" height="13"/><text class="t" x="1056" y="445.6">Durée du<tspan x="1056" dy="4.8">traitement</tspan></text></g>
<g id="mp-modal"><rect class="b" x="968" y="463" width="37" height="19"/><text class="t" x="986.5" y="469.4">Modification<tspan x="986.5" dy="4.5">des modalités</tspan><tspan x="986.5" dy="4.5">d'administration</tspan></text></g>
<g id="mp-forme"><rect class="b" x="1037" y="460" width="38" height="15"/><text class="t" x="1056" y="466.6">Forme<tspan x="1056" dy="4.8">pharmaceutique</tspan></text></g>
<g id="mp-tech"><rect class="b" x="1037" y="481" width="38" height="13"/><text class="t" x="1056" y="486.6">Technique<tspan x="1056" dy="4.8">d'administration</tspan></text></g>
<g id="mp-nonph"><rect class="b" x="883" y="512" width="40" height="15"/><text class="t" x="903" y="518.6">Mesures non<tspan x="903" dy="4.8">pharmacologiques</tspan></text></g>
<g id="mp-aides"><rect class="b" x="968" y="488" width="37" height="15"/><text class="t" x="986.5" y="494.6">Ajout d'aides<tspan x="986.5" dy="4.8">à l'adhésion</tspan></text></g>
<g id="mp-habit"><rect class="b" x="968" y="507" width="37" height="16"/><text class="t" x="986.5" y="514.1">Modification des<tspan x="986.5" dy="4.8">habitudes de vie</tspan></text></g>
<g id="mp-sugg"><rect class="b" x="968" y="527" width="37" height="18"/><text class="t" x="986.5" y="532.9">Suggestion de<tspan x="986.5" dy="4.5">thérapies</tspan><tspan x="986.5" dy="4.5">complémentaires</tspan></text></g>
<g id="mp-instr"><rect class="b" x="968" y="557" width="37" height="18"/><text class="t" x="986.5" y="562.9">Ajout ou retrait<tspan x="986.5" dy="4.5">d'instruments</tspan><tspan x="986.5" dy="4.5">médicaux</tspan></text></g>
<g id="mp-arsenal"><rect class="b dk" x="835" y="546" width="37" height="15"/><text class="t" x="853.5" y="552.6">Arsenal<tspan x="853.5" dy="4.8">thérapeutique</tspan></text></g>
<g id="mp-meds"><rect class="b" x="784" y="597" width="38" height="13"/><text class="t" x="803" y="605">Médicaments</text></g>
<g id="mp-outils"><rect class="b" x="835" y="595" width="30" height="15"/><text class="t" x="850" y="601.6">Outils et<tspan x="850" dy="4.8">instruments</tspan></text></g>
<g id="mp-habit2"><rect class="b" x="887" y="595" width="38" height="15"/><text class="t" x="906" y="601.6">Modification des<tspan x="906" dy="4.8">habitudes de vie</tspan></text></g>

<!-- ===== Interventions ===== -->
<g id="iv-hub"><rect class="b dk" x="78" y="553" width="39" height="15"/><text class="t" x="97.5" y="562">Interventions</text></g>
<g id="iv-tiers"><rect class="b" x="182" y="488" width="51" height="17"/><text class="t" x="207.5" y="498">Référence à un tiers</text></g>
<g id="iv-serv"><rect class="b" x="282" y="470" width="53" height="13"/><text class="t" x="308.5" y="475.6">Référence à un service<tspan x="308.5" dy="4.8">hospitalier ou d'urgence</tspan></text></g>
<g id="iv-prof"><rect class="b" x="282" y="492" width="53" height="13"/><text class="t" x="308.5" y="497.6">Référence à un autre<tspan x="308.5" dy="4.8">professionnel de la santé</tspan></text></g>
<g id="iv-groupe"><rect class="b" x="282" y="517" width="53" height="13"/><text class="t" x="308.5" y="522.6">Référence à un groupe<tspan x="308.5" dy="4.8">d'aide communautaire</tspan></text></g>
<g id="iv-presc"><rect class="b" x="173" y="530" width="79" height="22"/><text class="t" x="212.5" y="537.9">Prescription, initiation ou ajustement<tspan x="212.5" dy="4.5">de la thérapie médicamenteuse</tspan><tspan x="212.5" dy="4.5">dans le respect du cadre juridique</tspan></text></g>
<g id="iv-compat"><rect class="b" x="178" y="560" width="69" height="15"/><text class="t" x="212.5" y="566.6">Communication et intervention<tspan x="212.5" dy="4.8">auprès du patient/aidant</tspan></text></g>
<g id="iv-comprof"><rect class="b" x="178" y="582" width="69" height="16"/><text class="t" x="212.5" y="589.1">Communication et intervention<tspan x="212.5" dy="4.8">auprès des professionnels</tspan></text></g>
<g id="iv-real"><rect class="b" x="180" y="607" width="61" height="13"/><text class="t" x="210.5" y="612.6">Réalisation des tâches<tspan x="210.5" dy="4.8">déléguées ou non</tspan></text></g>
<g id="iv-conseil"><rect class="b" x="287" y="538" width="41" height="15"/><text class="t" x="307.5" y="547">Conseil au patient</text></g>
<g id="iv-opinion"><rect class="b" x="287" y="560" width="41" height="15"/><text class="t" x="307.5" y="566.6">Opinion<tspan x="307.5" dy="4.8">pharmaceutique</tspan></text></g>
<g id="iv-refus"><rect class="b" x="287" y="582" width="41" height="15"/><text class="t" x="307.5" y="591">Refus</text></g>
<g id="iv-tests"><rect class="b" x="287" y="607" width="41" height="13"/><text class="t" x="307.5" y="612.6">Prescription de<tspan x="307.5" dy="4.8">tests de laboratoire</tspan></text></g>

<!-- ===== Résultats thérapeutiques recherchés ===== -->
<g id="rt-hub"><rect class="b dk" x="243" y="717" width="60" height="16"/><text class="t" x="273" y="724.1">Résultats<tspan x="273" dy="4.8">thérapeutiques recherchés</tspan></text></g>
<g id="rt-guerir"><rect class="b" x="330" y="675" width="59" height="17"/><text class="t" x="359.5" y="682.6">Guérir une<tspan x="359.5" dy="4.8">maladie</tspan></text></g>
<g id="rt-reduire"><rect class="b" x="330" y="697" width="59" height="15"/><text class="t" x="359.5" y="703.6">Réduire ou éliminer<tspan x="359.5" dy="4.8">des symptômes</tspan></text></g>
<g id="rt-ralentir"><rect class="b" x="330" y="718" width="59" height="15"/><text class="t" x="359.5" y="724.6">Ralentir ou arrêter le<tspan x="359.5" dy="4.8">processus d'une maladie</tspan></text></g>
<g id="rt-prevenir"><rect class="b" x="330" y="738" width="59" height="17"/><text class="t" x="359.5" y="745.6">Prévenir une maladie<tspan x="359.5" dy="4.8">ou ses symptômes</tspan></text></g>
<g id="rt-controler"><rect class="b" x="330" y="760" width="59" height="18"/><text class="t" x="359.5" y="765.9">Contrôler un paramètre<tspan x="359.5" dy="4.5">physiologique (signe ou taux</tspan><tspan x="359.5" dy="4.5">de laboratoire, etc.)</tspan></text></g>
<g id="rt-delai"><rect class="b" x="177" y="703" width="33" height="15"/><text class="t" x="193.5" y="712">Délai</text></g>
<g id="rt-cible"><rect class="b" x="177" y="728" width="33" height="15"/><text class="t" x="193.5" y="737">Valeur cible</text></g>

<!-- ===== Déclencheurs externes ===== -->
<g id="de-hub"><rect class="b dk" x="423" y="676" width="40" height="21"/><text class="t" x="443" y="685.6">Déclencheurs<tspan x="443" dy="4.8">externes</tspan></text></g>
<g id="de-ord"><rect class="b" x="492" y="632" width="38" height="13"/><text class="t" x="511" y="640">Ordonnance</text></g>
<g id="de-renouv"><rect class="b" x="456" y="613" width="39" height="14"/><text class="t" x="475.5" y="621.5">Renouvelée</text></g>
<g id="de-nouv"><rect class="b" x="524" y="613" width="38" height="14"/><text class="t" x="543" y="621.5">Nouvelle</text></g>
<g id="de-hosp"><rect class="b" x="492" y="658" width="38" height="16"/><text class="t" x="511" y="667.5">Hospitalisation</text></g>
<g id="de-nd"><rect class="b" x="492" y="685" width="38" height="15"/><text class="t" x="511" y="694">Nouvelle donnée</text></g>
<g id="de-nds"><rect class="b" x="558" y="659" width="39" height="16"/><text class="t" x="577.5" y="666.1">Nouvelle donnée<tspan x="577.5" dy="4.8">scientifique</tspan></text></g>
<g id="de-test"><rect class="b" x="558" y="680" width="39" height="15"/><text class="t" x="577.5" y="689">Résultat de test</text></g>
<g id="de-cprof"><rect class="b" x="558" y="699" width="39" height="16"/><text class="t" x="577.5" y="706.1">Consultation de<tspan x="577.5" dy="4.8">professionnels</tspan></text></g>
<g id="de-caid"><rect class="b" x="558" y="718" width="39" height="15"/><text class="t" x="577.5" y="724.6">Consultation des<tspan x="577.5" dy="4.8">aidants naturels</tspan></text></g>
<g id="de-cpat"><rect class="b" x="558" y="739" width="39" height="16"/><text class="t" x="577.5" y="746.1">Consultation<tspan x="577.5" dy="4.8">du patient</tspan></text></g>
<g id="de-consult"><rect class="b" x="493" y="721" width="37" height="14"/><text class="t" x="511.5" y="729.5">Consultation</text></g>
<g id="de-virt"><rect class="b" x="448" y="763" width="34" height="17"/><text class="t" x="465" y="773">Virtuelle</text></g>
<g id="de-pres"><rect class="b" x="494" y="763" width="33" height="17"/><text class="t" x="510.5" y="773">En présence</text></g>
<g id="de-appel"><rect class="b" x="543" y="763" width="33" height="17"/><text class="t" x="559.5" y="770.6">Appel<tspan x="559.5" dy="4.8">téléphonique</tspan></text></g>

<!-- ===== Facteurs d'influence ===== -->
<g id="fi-hub"><polygon class="b dk" points="629,673 671,673 677,684 671,695 629,695 623,684"/><text class="t" x="650" y="680.9">Facteurs d'influence<tspan x="650" dy="4.5">reliés aux</tspan><tspan x="650" dy="4.5">médicaments</tspan></text></g>
<g id="fi-effic"><polygon class="b" points="725,600 758,600 761,606 758,612 725,612 722,606"/><text class="t sm" x="741.5" y="605.2">Efficacité<tspan x="741.5" dy="4.2">clinique</tspan></text></g>
<g id="fi-ciabs"><polygon class="b" points="725,617 758,617 761,623.5 758,630 725,630 722,623.5"/><text class="t sm" x="741.5" y="622.7">Contre-indications<tspan x="741.5" dy="4.2">absolues</tspan></text></g>
<g id="fi-cirel"><polygon class="b" points="723,633 760,633 763,640.5 760,648 723,648 720,640.5"/><text class="t sm" x="741.5" y="637.8">Contre-indications<tspan x="741.5" dy="4">relatives, précautions</tspan><tspan x="741.5" dy="4">et mises en garde</tspan></text></g>
<g id="fi-pop"><polygon class="b" points="725,653 756,653 759,660 756,667 725,667 722,660"/><text class="t" x="740.5" y="659.1">Populations<tspan x="740.5" dy="4.8">spéciales</tspan></text></g>
<g id="fi-effets"><polygon class="b" points="725,671 756,671 759,678 756,685 725,685 722,678"/><text class="t" x="740.5" y="677.1">Effets<tspan x="740.5" dy="4.8">indésirables</tspan></text></g>
<g id="fi-inter"><polygon class="b" points="725,695 756,695 759,701.5 756,708 725,708 722,701.5"/><text class="t" x="740.5" y="703">Interactions</text></g>
<g id="fi-access"><polygon class="b" points="725,718 756,718 759,724 756,730 725,730 722,724"/><text class="t" x="740.5" y="725.5">Accessibilité</text></g>
<g id="fi-poso"><polygon class="b" points="725,735 756,735 759,741 756,747 725,747 722,741"/><text class="t" x="740.5" y="742.5">Posologie</text></g>
<g id="fi-formul"><polygon class="b" points="725,751 756,751 759,757 756,763 725,763 722,757"/><text class="t" x="740.5" y="758.5">Formulation</text></g>
<g id="fi-cout"><polygon class="b" points="725,767 756,767 759,773 756,779 725,779 722,773"/><text class="t" x="740.5" y="774.5">Coût</text></g>
<g id="fi-pk"><polygon class="b" points="719,783 763,783 767,793 763,803 719,803 715,793"/><text class="t sm" x="741" y="788.4">Données<tspan x="741" dy="3.9">pharmacocinétiques,</tspan><tspan x="741" dy="3.9">pharmacodynamiques ou</tspan><tspan x="741" dy="3.9">pharmacogénomiques</tspan></text></g>
<g id="fi-mm"><polygon class="b" points="796,652 830,652 833,658.5 830,665 796,665 793,658.5"/><text class="t" x="813" y="657.6">Médicament et<tspan x="813" dy="4.8">médicaments</tspan></text></g>
<g id="fi-ma"><polygon class="b" points="796,672 830,672 833,679 830,686 796,686 793,679"/><text class="t" x="813" y="678.1">Médicament et<tspan x="813" dy="4.8">aliments</tspan></text></g>
<g id="fi-ms"><polygon class="b" points="796,692 830,692 833,698.5 830,705 796,705 793,698.5"/><text class="t" x="813" y="697.6">Médicament et<tspan x="813" dy="4.8">style de vie</tspan></text></g>
<g id="fi-me"><polygon class="b" points="796,710 830,710 833,718.5 830,727 796,727 793,718.5"/><text class="t sm" x="813" y="715">Médicament et<tspan x="813" dy="4.2">épreuves de</tspan><tspan x="813" dy="4.2">laboratoire</tspan></text></g>

<!-- ===== Documentation du plan de soins ===== -->
<g id="ds-hub"><rect class="b" x="962" y="670" width="36" height="15" stroke="#d2c08c" stroke-width="0.8"/><text class="t" x="980" y="676.6">Documentation<tspan x="980" dy="4.8">du plan de soins</tspan></text></g>
<g id="ds-pres"><rect class="pu" x="872" y="662" width="36" height="15" filter="url(#sh)"/><text class="t" x="890" y="668.6">Présentation<tspan x="890" dy="4.8">du patient</tspan></text></g>
<g id="ds-prob"><rect class="pu" x="872" y="685" width="36" height="15" filter="url(#sh)"/><text class="t" x="890" y="691.6">Problèmes de<tspan x="890" dy="4.8">santé priorisés</tspan></text></g>
<g id="ds-subj"><rect class="pu" x="872" y="707" width="36" height="20" filter="url(#sh)"/><text class="t" x="890" y="713.9">Données<tspan x="890" dy="4.5">subjectives</tspan><tspan x="890" dy="4.5">pertinentes</tspan></text></g>
<g id="ds-obj"><rect class="pu" x="872" y="732" width="36" height="20" filter="url(#sh)"/><text class="t" x="890" y="738.9">Données<tspan x="890" dy="4.5">objectives</tspan><tspan x="890" dy="4.5">pertinentes</tspan></text></g>
<g id="ds-res"><rect class="pu" x="872" y="757" width="36" height="20" filter="url(#sh)"/><text class="t" x="890" y="763.9">Résultats<tspan x="890" dy="4.5">thérapeutiques</tspan><tspan x="890" dy="4.5">recherchés</tspan></text></g>
<g id="ds-solapp"><rect class="b" x="897" y="783" width="35" height="15"/><text class="t" x="914.5" y="789.6">Solution(s)<tspan x="914.5" dy="4.8">appropriée(s)</tspan></text></g>
<g id="ds-solinapp"><rect class="b" x="942" y="783" width="36" height="15"/><text class="t" x="960" y="789.6">Solution(s)<tspan x="960" dy="4.8">inappropriée(s)</tspan></text></g>
<g id="ds-solopt"><rect class="b" x="990" y="783" width="35" height="15"/><text class="t" x="1007.5" y="789.6">Solution(s)<tspan x="1007.5" dy="4.8">optimale(s)</tspan></text></g>
<g id="ds-plan"><rect class="b" x="1037" y="663" width="40" height="15"/><text class="t" x="1057" y="669.6">Plan de soins<tspan x="1057" dy="4.8">(ex. académique)</tspan></text></g>
<g id="ds-note"><rect class="b" x="1037" y="683" width="45" height="15" stroke="#8f8fd8" stroke-width="1.4"/><text class="t" x="1059.5" y="692">Note clinique</text></g>
<g id="ds-areal"><rect class="pu" x="1037" y="707" width="41" height="16" filter="url(#sh)"/><text class="t" x="1057.5" y="714.1">Interventions<tspan x="1057.5" dy="4.8">à réaliser</tspan></text></g>
<g id="ds-real"><rect class="pu" x="1037" y="727" width="41" height="15" filter="url(#sh)"/><text class="t" x="1057.5" y="733.6">Interventions<tspan x="1057.5" dy="4.8">réalisées</tspan></text></g>
<g id="ds-justif"><rect class="pu" x="1037" y="748" width="41" height="15" filter="url(#sh)"/><text class="t" x="1057.5" y="754.6">Justification de la<tspan x="1057.5" dy="4.8">recommandation</tspan></text></g>
<g id="ds-modif"><rect class="pu" x="1037" y="772" width="41" height="21" filter="url(#sh)"/><text class="t" x="1057.5" y="779.4">Modification<tspan x="1057.5" dy="4.5">de la thérapie</tspan><tspan x="1057.5" dy="4.5">à recommander</tspan></text></g>

<!-- ===== Les artisans ===== -->
<g id="artisans">
<rect x="34" y="648" width="128" height="157" fill="#fff" stroke="#b8c0d4" stroke-width="1.2"/>
<rect x="33" y="638" width="94" height="16" fill="#fff"/>
<text class="ti" x="35" y="654" font-size="15">Les artisans</text>
<text class="ar" x="38" y="663"><tspan class="ab">Panel d'experts</tspan><tspan x="46" dy="5.6">Julie Couture, B. Pharm.</tspan><tspan x="46" dy="5.6">Céline Léveillé-Imbeault, M. Sc.</tspan><tspan x="46" dy="5.6">Louise Mallet, Pharm. D.</tspan><tspan x="46" dy="5.6">Chantal Pharand, Pharm. D.</tspan><tspan x="46" dy="5.6">Johanne Vinet, M. Sc.</tspan></text>
<text class="ar" x="38" y="701"><tspan class="ab">Mise à jour 2013</tspan><tspan x="46" dy="5.6">Françoise Crevier, Ph. D.</tspan><tspan x="46" dy="5.6">Chantal Pharand, Pharm. D.</tspan><tspan x="46" dy="5.6">Caroline Robitaille, M. Sc.</tspan><tspan x="46" dy="5.6">Nancy Sheehan, M. Sc.</tspan></text>
<text class="ar" x="38" y="738"><tspan class="ab">Conception et production graphique</tspan><tspan x="46" dy="5.6">Gisèle Gagné, coordonnatrice multimédia</tspan></text>
<text class="ar" x="38" y="756"><tspan class="ab">Modélisation du processus</tspan><tspan x="46" dy="5.6">Françoise Crevier, Ph. D.</tspan></text>
<text class="ar" x="38" y="775"><tspan class="ab">Responsable de projet</tspan><tspan x="46" dy="5.6">Chantal Pharand, Pharm. D.</tspan></text>
<text class="ar" x="38" y="799"><tspan class="ab">Contact :</tspan> processus-sp@umontreal.ca</text>
</g>
<g id="copyright">
<text class="ar" x="175" y="793" font-weight="bold">© Chantal Pharand, Françoise Crevier, 2013</text>
<text class="ar" x="182" y="801" font-weight="bold">ISBN 978-2-9813029-2-3</text>
</g>

<!-- ===== Index ===== -->
<g id="index">
<rect x="1117" y="109" width="141" height="426" fill="#fff" stroke="#c4c6cf" stroke-width="1.2"/>
<rect x="1119" y="100" width="46" height="17" fill="#fff"/>
<text class="ti" x="1121" y="118" font-size="15">Index</text>
<text class="sy" x="1120" y="125" font-weight="bold" style="font-size:4.5px">Connaissances déclaratives (Concepts)</text>
<rect x="1120" y="127" width="135" height="245" fill="url(#dt1)"/>
<text class="ix" x="1120" y="130">Adhésion au traitement<tspan x="1120" dy="3.95">Aidants naturels (coordonnées)</tspan><tspan x="1120" dy="3.95">Antécédents familiaux</tspan><tspan x="1120" dy="3.95">Antécédents médicaux</tspan><tspan x="1120" dy="3.95">Antécédents personnels</tspan><tspan x="1120" dy="3.95">Arsenal thérapeutique</tspan><tspan x="1120" dy="3.95">Attentes/demandes du patient</tspan><tspan x="1120" dy="3.95">Barrières à l'adhésion</tspan><tspan x="1120" dy="3.95">Barrières reliées au Pouvoir</tspan><tspan x="1120" dy="3.95">Barrières reliées au Savoir</tspan><tspan x="1120" dy="3.95">Barrières reliées au Vouloir</tspan><tspan x="1120" dy="3.95">Consultation</tspan><tspan x="1120" dy="3.95">Croyances et valeurs du patient</tspan><tspan x="1120" dy="3.95">Déclencheurs externes</tspan><tspan x="1120" dy="3.95">Documentation du plan de soins</tspan><tspan x="1120" dy="3.95">Données à propos du patient</tspan><tspan x="1120" dy="3.95">Données démographiques</tspan><tspan x="1120" dy="3.95">Données objectives pertinentes</tspan><tspan x="1120" dy="3.95">Données subjectives pertinentes</tspan><tspan x="1120" dy="3.95">Efficacité</tspan><tspan x="1120" dy="3.95">Effets indésirables</tspan><tspan x="1120" dy="3.95">Évaluation de l'état physique</tspan><tspan x="1120" dy="3.95">Facteurs d'influence reliés aux médicaments</tspan><tspan x="1120" dy="3.95">Facteurs modifiants/associés</tspan><tspan x="1120" dy="3.95">Habitudes de vie</tspan><tspan x="1120" dy="3.95">Histoire médicamenteuse</tspan><tspan x="1120" dy="3.95">Innocuité</tspan><tspan x="1120" dy="3.95">Interactions</tspan><tspan x="1120" dy="3.95">Interventions</tspan><tspan x="1120" dy="3.95">Interventions à réaliser</tspan><tspan x="1120" dy="3.95">Interventions réalisées</tspan><tspan x="1120" dy="3.95">Justification de la recommandation</tspan><tspan x="1120" dy="3.95">Médicament</tspan><tspan x="1120" dy="3.95">Médicament actif</tspan><tspan x="1120" dy="3.95">Médicament antérieur</tspan><tspan x="1120" dy="3.95">Médicament sous ordonnance</tspan><tspan x="1120" dy="3.95">Mesures non pharmacologiques</tspan><tspan x="1120" dy="3.95">Mesures pharmacologiques</tspan><tspan x="1120" dy="3.95">Modification de la posologie</tspan><tspan x="1120" dy="3.95">Modification des modalités d'administration</tspan><tspan x="1120" dy="3.95">Modifications potentielles</tspan><tspan x="1120" dy="3.95">Note clinique</tspan><tspan x="1120" dy="3.95">Nouvelle donnée</tspan><tspan x="1120" dy="3.95">Ordonnance</tspan><tspan x="1120" dy="3.95">Outils et instruments</tspan><tspan x="1120" dy="3.95">Plan de soins</tspan><tspan x="1120" dy="3.95">Présentation du patient</tspan><tspan x="1120" dy="3.95">Problèmes de santé priorisés</tspan><tspan x="1120" dy="3.95">Profil fonctionnel</tspan><tspan x="1120" dy="3.95">Raison de consultation</tspan><tspan x="1120" dy="3.95">Référence à un tiers</tspan><tspan x="1120" dy="3.95">Renseignements généraux</tspan><tspan x="1120" dy="3.95">Résultats des tests d'investigation</tspan><tspan x="1120" dy="3.95">Résultats thérapeutiques recherchés</tspan><tspan x="1120" dy="3.95">Revue des systèmes</tspan><tspan x="1120" dy="3.95">Signes et/ou symptômes</tspan><tspan x="1120" dy="3.95">Signes vitaux</tspan><tspan x="1120" dy="3.95">Solution(s) appropriée(s)</tspan><tspan x="1120" dy="3.95">Solution(s) inappropriée(s)</tspan><tspan x="1120" dy="3.95">Solution(s) optimale(s)</tspan><tspan x="1120" dy="3.95">Statut</tspan><tspan x="1120" dy="3.95">Thérapies complémentaires</tspan></text>
<text class="ix" x="1255" y="130" text-anchor="end">B25, D21<tspan x="1255" dy="3.95">A17</tspan><tspan x="1255" dy="3.95">D17</tspan><tspan x="1255" dy="3.95">B19, D17</tspan><tspan x="1255" dy="3.95">D16</tspan><tspan x="1255" dy="3.95">F25</tspan><tspan x="1255" dy="3.95">B22</tspan><tspan x="1255" dy="3.95">B27</tspan><tspan x="1255" dy="3.95">C27</tspan><tspan x="1255" dy="3.95">A27</tspan><tspan x="1255" dy="3.95">B27</tspan><tspan x="1255" dy="3.95">H21</tspan><tspan x="1255" dy="3.95">A22, B28</tspan><tspan x="1255" dy="3.95">H20</tspan><tspan x="1255" dy="3.95">H27</tspan><tspan x="1255" dy="3.95">B20</tspan><tspan x="1255" dy="3.95">B16, B19</tspan><tspan x="1255" dy="3.95">J26</tspan><tspan x="1255" dy="3.95">H26</tspan><tspan x="1255" dy="3.95">F22</tspan><tspan x="1255" dy="3.95">C28, H24</tspan><tspan x="1255" dy="3.95">B21</tspan><tspan x="1255" dy="3.95">H23</tspan><tspan x="1255" dy="3.95">B24</tspan><tspan x="1255" dy="3.95">B19, C19</tspan><tspan x="1255" dy="3.95">B20, E21</tspan><tspan x="1255" dy="3.95">F22</tspan><tspan x="1255" dy="3.95">H24</tspan><tspan x="1255" dy="3.95">F15</tspan><tspan x="1255" dy="3.95">H28</tspan><tspan x="1255" dy="3.95">H28</tspan><tspan x="1255" dy="3.95">J28</tspan><tspan x="1255" dy="3.95">E21</tspan><tspan x="1255" dy="3.95">E23</tspan><tspan x="1255" dy="3.95">F23</tspan><tspan x="1255" dy="3.95">F21</tspan><tspan x="1255" dy="3.95">F26</tspan><tspan x="1255" dy="3.95">D26</tspan><tspan x="1255" dy="3.95">D27</tspan><tspan x="1255" dy="3.95">E27</tspan><tspan x="1255" dy="3.95">E25</tspan><tspan x="1255" dy="3.95">H28</tspan><tspan x="1255" dy="3.95">H21</tspan><tspan x="1255" dy="3.95">G21</tspan><tspan x="1255" dy="3.95">D21, G26</tspan><tspan x="1255" dy="3.95">H28</tspan><tspan x="1255" dy="3.95">H26</tspan><tspan x="1255" dy="3.95">H26</tspan><tspan x="1255" dy="3.95">B21</tspan><tspan x="1255" dy="3.95">A20</tspan><tspan x="1255" dy="3.95">E17</tspan><tspan x="1255" dy="3.95">A17, A19</tspan><tspan x="1255" dy="3.95">B22</tspan><tspan x="1255" dy="3.95">H18, J26</tspan><tspan x="1255" dy="3.95">C24</tspan><tspan x="1255" dy="3.95">A20, A24</tspan><tspan x="1255" dy="3.95">C20</tspan><tspan x="1255" dy="3.95">J26</tspan><tspan x="1255" dy="3.95">J27</tspan><tspan x="1255" dy="3.95">J27</tspan><tspan x="1255" dy="3.95">F22</tspan><tspan x="1255" dy="3.95">E20</tspan></text>
<text class="sy" x="1120" y="384" font-weight="bold" style="font-size:4.5px">Connaissances procédurales (Procédures)</text>
<rect x="1120" y="386" width="135" height="143" fill="url(#dt2)"/>
<text class="ix" x="1120" y="389">Ajuster le plan de soins<tspan x="1120" dy="3.95">Analyser les données recueillies</tspan><tspan x="1120" dy="3.95">Analyser les facteurs d'influence</tspan><tspan x="1120" dy="3.95">Collecter les données pertinentes</tspan><tspan x="1120" dy="3.95">Communiquer avec les professionnels</tspan><tspan x="1120" dy="3.95">Concevoir le plan de soins</tspan><tspan x="1120" dy="3.95">Consulter les sources d'information</tspan><tspan x="1120" dy="3.95">Déterminer les besoins du patient</tspan><tspan x="1120" dy="3.95">Déterminer les résultats thérapeutiques recherchés</tspan><tspan x="1120" dy="3.95">Discuter avec le patient</tspan><tspan x="1120" dy="3.95">Documenter le plan de soins</tspan><tspan x="1120" dy="3.95">Effectuer le suivi</tspan><tspan x="1120" dy="3.95">Établir la relation avec le patient</tspan><tspan x="1120" dy="3.95">Évaluer l'adhésion au traitement</tspan><tspan x="1120" dy="3.95">Évaluer l'efficacité de la thérapie</tspan><tspan x="1120" dy="3.95">Évaluer l'innocuité de la thérapie</tspan><tspan x="1120" dy="3.95">Évaluer la pharmacothérapie</tspan><tspan x="1120" dy="3.95">Expliquer le plan au patient</tspan><tspan x="1120" dy="3.95">Formuler les recommandations</tspan><tspan x="1120" dy="3.95">Identifier les barrières à l'adhésion</tspan><tspan x="1120" dy="3.95">Identifier les problèmes de santé</tspan><tspan x="1120" dy="3.95">Identifier les problèmes reliés à la pharmacothérapie</tspan><tspan x="1120" dy="3.95">Identifier les solutions possibles</tspan><tspan x="1120" dy="3.95">Informer le patient</tspan><tspan x="1120" dy="3.95">Interpréter les données</tspan><tspan x="1120" dy="3.95">Mettre en oeuvre le plan de soins</tspan><tspan x="1120" dy="3.95">Obtenir le consentement du patient</tspan><tspan x="1120" dy="3.95">Planifier le suivi</tspan><tspan x="1120" dy="3.95">Prioriser les problèmes de santé</tspan><tspan x="1120" dy="3.95">Rechercher l'information</tspan><tspan x="1120" dy="3.95">Réévaluer le plan de soins</tspan><tspan x="1120" dy="3.95">Référer à un tiers</tspan><tspan x="1120" dy="3.95">Sélectionner la solution optimale</tspan><tspan x="1120" dy="3.95">Surveiller le patient</tspan><tspan x="1120" dy="3.95">Vérifier la compréhension du patient</tspan><tspan x="1120" dy="3.95">Vérifier les modifications thérapeutiques</tspan></text>
<text class="ix" x="1255" y="389" text-anchor="end">G27<tspan x="1255" dy="3.95">B22</tspan><tspan x="1255" dy="3.95">H23</tspan><tspan x="1255" dy="3.95">B20</tspan><tspan x="1255" dy="3.95">F17</tspan><tspan x="1255" dy="3.95">H27</tspan><tspan x="1255" dy="3.95">G23</tspan><tspan x="1255" dy="3.95">B22</tspan><tspan x="1255" dy="3.95">H18</tspan><tspan x="1255" dy="3.95">F17</tspan><tspan x="1255" dy="3.95">H27</tspan><tspan x="1255" dy="3.95">F15</tspan><tspan x="1255" dy="3.95">A19</tspan><tspan x="1255" dy="3.95">B25</tspan><tspan x="1255" dy="3.95">F22</tspan><tspan x="1255" dy="3.95">F22</tspan><tspan x="1255" dy="3.95">E21</tspan><tspan x="1255" dy="3.95">F17</tspan><tspan x="1255" dy="3.95">J28</tspan><tspan x="1255" dy="3.95">B27</tspan><tspan x="1255" dy="3.95">H26</tspan><tspan x="1255" dy="3.95">E25</tspan><tspan x="1255" dy="3.95">J26</tspan><tspan x="1255" dy="3.95">F17</tspan><tspan x="1255" dy="3.95">B22</tspan><tspan x="1255" dy="3.95">F15</tspan><tspan x="1255" dy="3.95">A19</tspan><tspan x="1255" dy="3.95">H18</tspan><tspan x="1255" dy="3.95">H26</tspan><tspan x="1255" dy="3.95">G23</tspan><tspan x="1255" dy="3.95">H27</tspan><tspan x="1255" dy="3.95">E17</tspan><tspan x="1255" dy="3.95">J27</tspan><tspan x="1255" dy="3.95">H18</tspan><tspan x="1255" dy="3.95">F17</tspan><tspan x="1255" dy="3.95">E27</tspan></text>
</g>

<!-- ===== Syntaxe ===== -->
<g id="syntaxe">
<rect x="1117" y="541" width="141" height="282" fill="#fff" stroke="#c4c6cf" stroke-width="1.2"/>
<rect x="1119" y="532" width="62" height="17" fill="#fff"/>
<text class="ti" x="1121" y="548" font-size="15">Syntaxe</text>
<text class="sy" x="1121" y="556" font-weight="bold" style="font-size:6.2px">Les objets du modèle</text>
<g class="sy" font-weight="bold" style="font-size:3.7px"><text x="1121" y="563">Connaissances</text><text x="1160" y="563">Définition</text><text x="1210" y="563">Exemple</text></g>
<line x1="1120" y1="565" x2="1255" y2="565" stroke="#999" stroke-width="0.4"/>
<rect class="b" x="1120" y="572" width="32" height="11" rx="5.5" stroke="#d4c08a" stroke-width="0.6"/><text class="t" x="1136" y="579">Procédure</text>
<text class="sy" x="1160" y="573">Une procédure décrit le<tspan x="1160" dy="4">COMMENT (étape,</tspan><tspan x="1160" dy="4">action, façon de faire).</tspan></text>
<text class="sy" x="1210" y="573">Recueillir les informations,<tspan x="1210" dy="4">analyser les données.</tspan></text>
<rect class="b" x="1120" y="590" width="32" height="11" stroke="#d4c08a" stroke-width="0.6"/><text class="t" x="1136" y="597">Concept</text>
<text class="sy" x="1160" y="591">Un concept décrit le<tspan x="1160" dy="4">QUOI (objet, catégorie,</tspan><tspan x="1160" dy="4">classe d'objets).</tspan></text>
<text class="sy" x="1210" y="591">Données, antécédents,<tspan x="1210" dy="4">IMC, plan de soins.</tspan></text>
<polygon class="b" points="1123,608 1149,608 1152,614 1149,620 1123,620 1120,614" stroke="#d4c08a" stroke-width="0.6"/><text class="t" x="1136" y="615.5">Principe</text>
<text class="sy" x="1160" y="608">Un principe décrit le<tspan x="1160" dy="4">POURQUOI ou le QUAND</tspan><tspan x="1160" dy="4">(règles, lois de nature,</tspan><tspan x="1160" dy="4">lien).</tspan></text>
<text class="sy" x="1210" y="609">Il faut réévaluer<tspan x="1210" dy="4">continuellement le</tspan><tspan x="1210" dy="4">plan de soins.</tspan></text>
<rect class="b" x="1120" y="626" width="32" height="12" rx="3" stroke="#d4c08a" stroke-width="0.6"/><text class="t" x="1136" y="633.5">Fait</text>
<text class="sy" x="1160" y="630">Un fait décrit un cas,<tspan x="1160" dy="4">unique, un objet réel.</tspan></text>
<text class="sy" x="1210" y="630">Ce livre, ce texte, ce<tspan x="1210" dy="4">formulaire, ce comprimé.</tspan></text>
<text class="sy" x="1121" y="652" font-weight="bold" style="font-size:6.2px">Les liens</text>
<g class="sy" font-weight="bold" style="font-size:3.7px"><text x="1128" y="660">Liens</text><text x="1160" y="660">Définition des liens</text><text x="1210" y="660">Exemple</text></g>
<line x1="1120" y1="662" x2="1255" y2="662" stroke="#999" stroke-width="0.4"/>
<g class="sy" text-anchor="middle"><text x="1136" y="670">C<tspan x="1136" dy="4">(lien composé</tspan><tspan x="1136" dy="4">de)</tspan></text>
<text x="1136" y="699">P<tspan x="1136" dy="4">(précède)</tspan></text>
<text x="1136" y="720">S<tspan x="1136" dy="4">(lien sorte de)</tspan></text>
<text x="1136" y="743">R<tspan x="1136" dy="4">(lien principe</tspan><tspan x="1136" dy="4">régit)</tspan></text>
<text x="1136" y="768">I/P<tspan x="1136" dy="4">(lien intrant/</tspan><tspan x="1136" dy="4">produit)</tspan></text>
<text x="1136" y="796">A<tspan x="1136" dy="4">(lien attribut)</tspan></text></g>
<text class="sy" x="1160" y="668">Explicite la décompo-<tspan x="1160" dy="4">sition d'un tout en ses</tspan><tspan x="1160" dy="4">parties.</tspan></text>
<text class="sy" x="1210" y="668">La revue des systèmes<tspan x="1210" dy="4">est composée de</tspan><tspan x="1210" dy="4">l'évaluation des systèmes</tspan><tspan x="1210" dy="4">cardiovasculaire, rénal...</tspan></text>
<text class="sy" x="1160" y="697">Explicite qu'une<tspan x="1160" dy="4">connaissance précède</tspan><tspan x="1160" dy="4">une autre.</tspan></text>
<text class="sy" x="1210" y="697">La collecte des données<tspan x="1210" dy="4">précède l'analyse des</tspan><tspan x="1210" dy="4">données.</tspan></text>
<text class="sy" x="1160" y="719">C'est un lien entre une<tspan x="1160" dy="4">connaissance générale</tspan><tspan x="1160" dy="4">et ses spécifications.</tspan></text>
<text class="sy" x="1210" y="719">Un médicament en vente<tspan x="1210" dy="4">libre (MVL) est une sorte</tspan><tspan x="1210" dy="4">de médicament.</tspan></text>
<text class="sy" x="1160" y="741">Un principe régit<tspan x="1160" dy="4">ou gouverne une</tspan><tspan x="1160" dy="4">procédure ou un</tspan><tspan x="1160" dy="4">concept.</tspan></text>
<text class="sy" x="1210" y="741">Le principe il faut<tspan x="1210" dy="4">réévaluer continuelle-</tspan><tspan x="1210" dy="4">ment le plan de soins</tspan><tspan x="1210" dy="4">régit la procédure</tspan><tspan x="1210" dy="4">effectuer le suivi.</tspan></text>
<text class="sy" x="1160" y="767">Permet d'expliquer<tspan x="1160" dy="4">qu'un concept est</tspan><tspan x="1160" dy="4">l'intrant ou le produit</tspan><tspan x="1160" dy="4">d'une procédure.</tspan></text>
<text class="sy" x="1210" y="767">Les données sont<tspan x="1210" dy="4">l'intrant de la</tspan><tspan x="1210" dy="4">procédure analyser les</tspan><tspan x="1210" dy="4">données.</tspan></text>
<text class="sy" x="1160" y="793">Caractérise un concept<tspan x="1160" dy="4">par ses attributs, sa</tspan><tspan x="1160" dy="4">qualité ou ses</tspan><tspan x="1160" dy="4">composantes.</tspan></text>
<text class="sy" x="1210" y="793">Le concept médicament<tspan x="1210" dy="4">a pour attributs la</tspan><tspan x="1210" dy="4">dose, la fréquence...</tspan></text>
</g>
</svg>
